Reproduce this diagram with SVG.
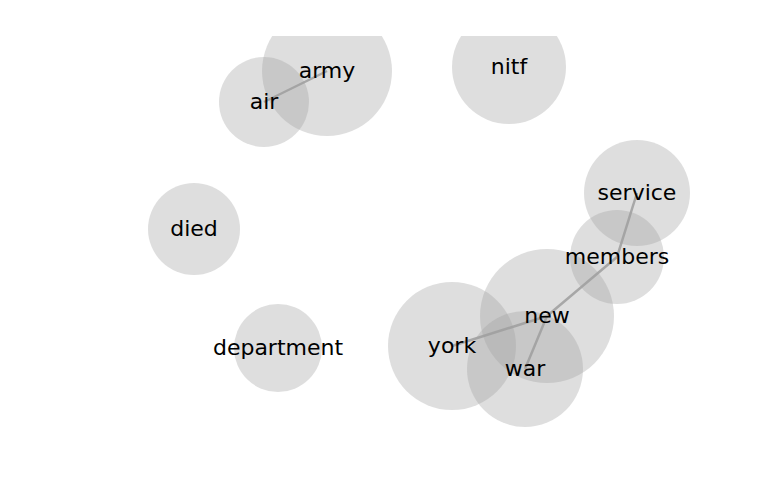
<svg xmlns="http://www.w3.org/2000/svg" width="768" height="500" viewBox="0 0 768 500">
<style>
.node circle{fill:#a0a0a0;fill-opacity:0.35;stroke:none}
.node text{font-family:"DejaVu Sans",sans-serif;font-size:22px;fill:#000;text-anchor:middle}
.edge{stroke:#ababab;stroke-width:2.5;fill:none}
</style>
<defs>
<clipPath id="clip"><rect x="0" y="36" width="768" height="464"/></clipPath>
</defs>
<rect width="768" height="500" fill="#fff"/>
<g id="connectors">
<line class="edge" x1="264" y1="102" x2="327" y2="71"/>
<line class="edge" x1="637" y1="193" x2="617" y2="257"/>
<line class="edge" x1="617" y1="257" x2="547" y2="316"/>
<line class="edge" x1="452" y1="346" x2="547" y2="316"/>
<line class="edge" x1="525" y1="369" x2="547" y2="316"/>
</g>
<g clip-path="url(#clip)">
<g id="node-army" class="node"><circle cx="327" cy="71" r="65"/></g>
<g id="node-air" class="node"><circle cx="264" cy="102" r="45"/></g>
<g id="node-nitf" class="node"><circle cx="509" cy="67" r="57"/></g>
<g id="node-died" class="node"><circle cx="194" cy="229" r="46"/></g>
<g id="node-department" class="node"><circle cx="278" cy="348" r="44"/></g>
<g id="node-service" class="node"><circle cx="637" cy="193" r="53"/></g>
<g id="node-members" class="node"><circle cx="617" cy="257" r="47"/></g>
<g id="node-new" class="node"><circle cx="547" cy="316" r="67"/></g>
<g id="node-york" class="node"><circle cx="452" cy="346" r="64"/></g>
<g id="node-war" class="node"><circle cx="525" cy="369" r="58"/></g>
</g>
<g id="labels" class="node">
<text x="327" y="78">army</text>
<text x="264" y="109">air</text>
<text x="509" y="74">nitf</text>
<text x="194" y="236">died</text>
<text x="278" y="355">department</text>
<text x="637" y="200">service</text>
<text x="617" y="264">members</text>
<text x="547" y="323">new</text>
<text x="452" y="353">york</text>
<text x="525" y="376">war</text>
</g>
</svg>
